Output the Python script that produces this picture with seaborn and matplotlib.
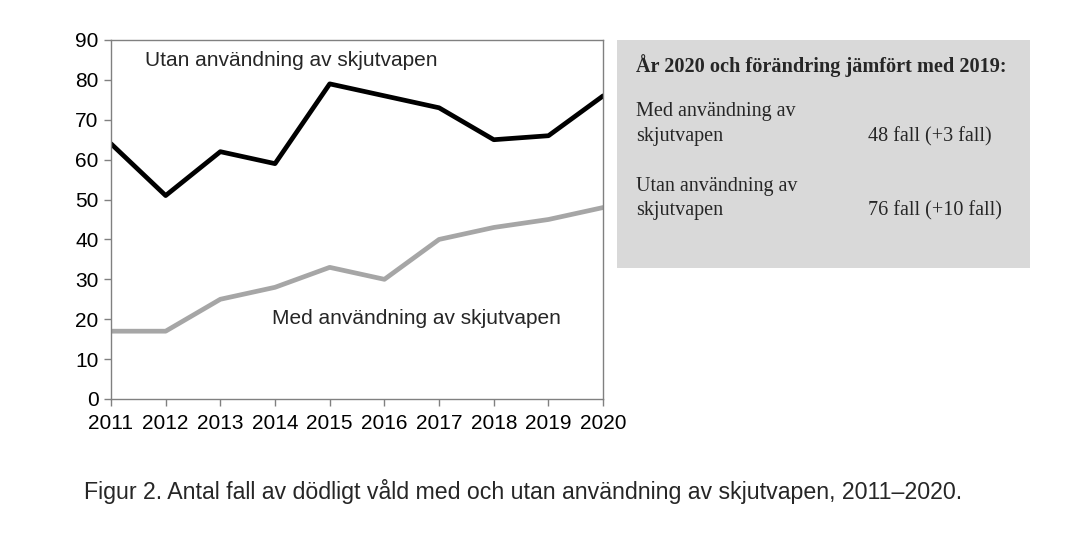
import matplotlib
matplotlib.use("Agg")
import matplotlib.pyplot as plt
import seaborn as sns
import pandas as pd
from matplotlib.patches import Rectangle

years = [2011, 2012, 2013, 2014, 2015, 2016, 2017, 2018, 2019, 2020]
utan = [64, 51, 62, 59, 79, 76, 73, 65, 66, 76]
med = [17, 17, 25, 28, 33, 30, 40, 43, 45, 48]
series_names = ["Utan användning av skjutvapen", "Med användning av skjutvapen"]
y_ticks = [0, 10, 20, 30, 40, 50, 60, 70, 80, 90]

sns.set_style("white")
plt.rcParams['font.family'] = ['Liberation Sans', 'DejaVu Sans']

df = pd.DataFrame({
    "year": years * 2,
    "value": utan + med,
    "serie": [series_names[0]] * len(years) + [series_names[1]] * len(years),
})

fig = plt.figure(figsize=(10.7, 5.36), dpi=100)
ax = fig.add_axes([0.1037, 0.2556, 0.4600, 0.6698])
sns.lineplot(data=df, x="year", y="value", hue="serie",
             palette={series_names[0]: "#000000", series_names[1]: "#a6a6a6"},
             linewidth=3.4, legend=False, ax=ax)
ax.set_xlim(years[0], years[-1])
ax.set_ylim(0, 90)
ax.set_xticks(years)
ax.set_yticks(y_ticks)
ax.set_xlabel("")
ax.set_ylabel("")
for s in ax.spines.values():
    s.set_color("#808080")
    s.set_linewidth(1.0)
ax.tick_params(axis="both", labelsize=15, labelcolor="#000000", color="#808080",
               length=5, width=1, direction="out", bottom=True, left=True)
ax.tick_params(axis="x", pad=6)
ax.tick_params(axis="y", pad=4)
ax.text(2011.62, 84.8, series_names[0], fontsize=15, ha="left", va="center")
ax.text(2013.95, 20.3, series_names[1], fontsize=15, ha="left", va="center")

# gray info box
box_l, box_b, box_w, box_h = 617/1070, 1-268/536, (1030-617)/1070, (268-40)/536
fig.patches.append(Rectangle((box_l, box_b), box_w, box_h, transform=fig.transFigure,
                             facecolor="#d9d9d9", edgecolor="none", zorder=0))
serif = ['Liberation Serif', 'DejaVu Serif']
fig.text(636/1070, 1-66/536, "År 2020 och förändring jämfört med 2019:", family=serif,
         fontsize=14.6, fontweight="bold", va="center", ha="left")
fig.text(636/1070, 1-112/536, "Med användning av", family=serif, fontsize=14.5, va="center")
fig.text(636/1070, 1-137/536, "skjutvapen", family=serif, fontsize=14.5, va="center")
fig.text(868/1070, 1-137/536, "48 fall (+3 fall)", family=serif, fontsize=14.5, va="center")
fig.text(636/1070, 1-186/536, "Utan användning av", family=serif, fontsize=14.5, va="center")
fig.text(636/1070, 1-211/536, "skjutvapen", family=serif, fontsize=14.5, va="center")
fig.text(868/1070, 1-211/536, "76 fall (+10 fall)", family=serif, fontsize=14.5, va="center")

fig.text(84/1070, 1-492/536,
         "Figur 2. Antal fall av dödligt våld med och utan användning av skjutvapen, 2011–2020.",
         fontsize=16.7, va="center", ha="left")

fig.savefig("out.png", dpi=100)
